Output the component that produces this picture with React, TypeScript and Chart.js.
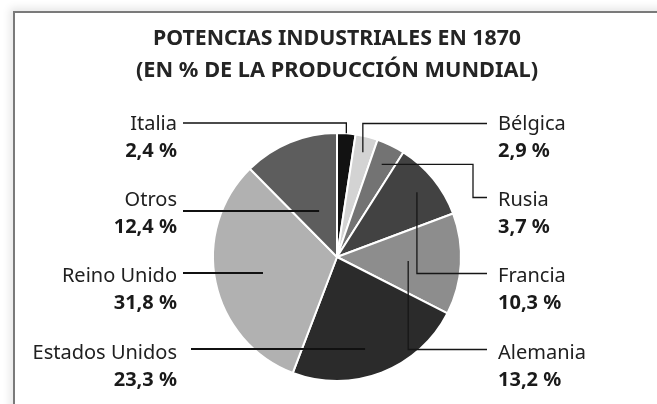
import React, { useEffect, useRef } from "react";
import { Chart, registerables } from "chart.js";

Chart.register(...registerables);

// ---- Data ----
const countries = ["Italia", "Bélgica", "Rusia", "Francia", "Alemania", "Estados Unidos", "Reino Unido", "Otros"];
const shares = [2.4, 2.9, 3.7, 10.3, 13.2, 23.3, 31.8, 12.4];
const shareLabels = ["2,4 %", "2,9 %", "3,7 %", "10,3 %", "13,2 %", "23,3 %", "31,8 %", "12,4 %"];
const sliceColors = ["#121212", "#d3d3d3", "#737373", "#424242", "#8d8d8d", "#2b2b2b", "#b1b1b1", "#5d5d5d"];
const titleLines = ["POTENCIAS INDUSTRIALES EN 1870", "(EN % DE LA PRODUCCIÓN MUNDIAL)"];

// ---- Label layout (positions / styles, separate from data) ----
type LabelLayout = {
  side: "left" | "right";
  mode: "h" | "v" | "e";
  frac: number;
  lineY: number;
  textY: number;
  lineX: number;
  elbowX?: number;
  lw: number;
};
const labelLayout: LabelLayout[] = [
  { side: "left", mode: "v", frac: 1.0, lineY: 123, textY: 129.5, lineX: 183, lw: 1.3 },
  { side: "right", mode: "v", frac: 0.87, lineY: 123.5, textY: 129.5, lineX: 487, lw: 1.3 },
  { side: "right", mode: "e", frac: 0.83, lineY: 197.5, textY: 206, lineX: 487, elbowX: 473, lw: 1.3 },
  { side: "right", mode: "v", frac: 0.83, lineY: 273.5, textY: 281.5, lineX: 487, lw: 1.3 },
  { side: "right", mode: "v", frac: 0.575, lineY: 349.5, textY: 359, lineX: 487, lw: 1.3 },
  { side: "left", mode: "h", frac: 0.63, lineY: 349, textY: 359, lineX: 191, lw: 2 },
  { side: "left", mode: "h", frac: 0.61, lineY: 273, textY: 281.5, lineX: 183, lw: 2 },
  { side: "left", mode: "h", frac: 0.38, lineY: 211, textY: 206, lineX: 183, lw: 2 },
];
const leftTextX = 177;
const rightTextX = 498;
const pctOffset = 27;
const titleCenterX = 337;
const titleBaselines = [45, 77];
const titleWidths = [368, 402];

const FONT = "'Noto Sans', 'DejaVu Sans', sans-serif";

const labelsPlugin = {
  id: "leaderLabels",
  afterDraw(chart: any) {
    const ctx: CanvasRenderingContext2D = chart.ctx;
    const meta = chart.getDatasetMeta(0);
    ctx.save();
    // Title
    ctx.fillStyle = "#242424";
    ctx.textBaseline = "alphabetic";
    ctx.textAlign = "left";
    ctx.font = `bold 22px ${FONT}`;
    titleLines.forEach((t, i) => {
      const w = ctx.measureText(t).width;
      const s = titleWidths[i] / w;
      ctx.save();
      ctx.translate(titleCenterX - titleWidths[i] / 2, titleBaselines[i]);
      ctx.scale(s, 1);
      ctx.fillText(t, 0, 0);
      ctx.restore();
    });

    meta.data.forEach((el: any, i: number) => {
      const L = labelLayout[i];
      if (!L) return;
      const p = el.getProps(["x", "y", "startAngle", "endAngle", "outerRadius"], true);
      const mid = (p.startAngle + p.endAngle) / 2;
      const ax = p.x + Math.cos(mid) * p.outerRadius * L.frac;
      const ay = p.y + Math.sin(mid) * p.outerRadius * L.frac;
      ctx.beginPath();
      ctx.lineWidth = L.lw;
      ctx.strokeStyle = L.side === "left" ? "#111111" : "#161616";
      ctx.lineCap = "butt";
      ctx.lineJoin = "miter";
      if (L.mode === "h") {
        ctx.moveTo(L.lineX, L.lineY);
        ctx.lineTo(ax, L.lineY);
      } else if (L.mode === "v") {
        ctx.moveTo(L.lineX, L.lineY);
        ctx.lineTo(ax, L.lineY);
        ctx.lineTo(ax, ay);
      } else {
        const ex = L.elbowX ?? ax;
        ctx.moveTo(ax, ay);
        ctx.lineTo(ex, ay);
        ctx.lineTo(ex, L.lineY);
        ctx.lineTo(L.lineX, L.lineY);
      }
      ctx.stroke();

      const tx = L.side === "left" ? leftTextX : rightTextX;
      ctx.textAlign = L.side === "left" ? "right" : "left";
      ctx.fillStyle = "#202020";
      ctx.font = `20px ${FONT}`;
      ctx.fillText(countries[i], tx, L.textY);
      ctx.fillStyle = "#1a1a1a";
      ctx.font = `bold 20px ${FONT}`;
      ctx.fillText(shareLabels[i], tx, L.textY + pctOffset);
    });
    ctx.restore();
  },
};

export default function App() {
  const canvasRef = useRef<HTMLCanvasElement | null>(null);

  useEffect(() => {
    if (!canvasRef.current) return;
    const chart = new Chart(canvasRef.current, {
      type: "pie",
      data: {
        labels: countries,
        datasets: [
          {
            data: shares,
            backgroundColor: sliceColors,
            borderColor: "#ffffff",
            borderWidth: 2,
          },
        ],
      },
      options: {
        responsive: false,
        animation: false,
        devicePixelRatio: 1,
        layout: { padding: { top: 132, bottom: 22, left: 212, right: 195 } },
        plugins: {
          legend: { display: false },
          tooltip: { enabled: false },
          title: { display: false },
        },
      },
      plugins: [labelsPlugin],
    });
    return () => chart.destroy();
  }, []);

  return (
    <div
      style={{
        position: "absolute",
        left: 0,
        top: 0,
        width: 657,
        height: 404,
        overflow: "hidden",
        background: "#ffffff",
      }}
    >
      <div
        style={{
          position: "absolute",
          left: 13,
          top: 11,
          width: 720,
          height: 460,
          background: "#ffffff",
          borderTop: "2px solid #7a7a7a",
          borderLeft: "2px solid #7a7a7a",
          boxShadow: "0 0 8px 3px rgba(0,0,0,0.10)",
        }}
      />
      <canvas
        ref={canvasRef}
        width={657}
        height={404}
        style={{ position: "absolute", left: 0, top: 0, width: 657, height: 404 }}
      />
    </div>
  );
}
